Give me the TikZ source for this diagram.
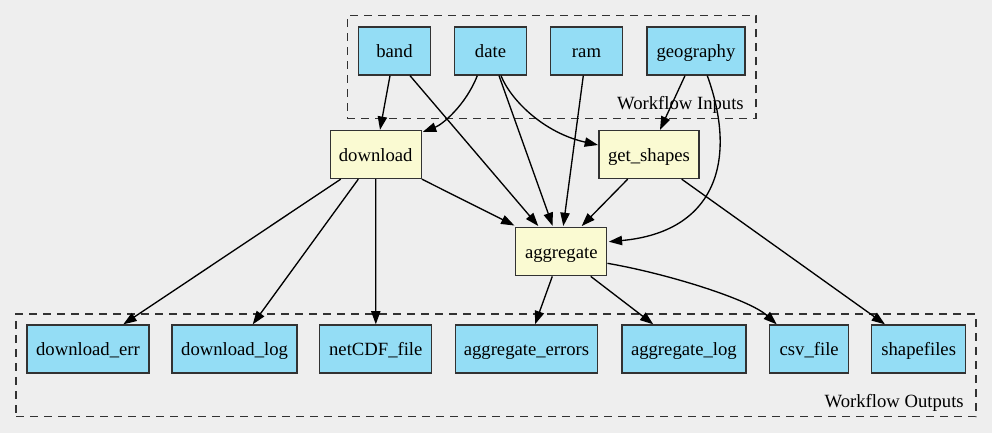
\documentclass[tikz,border=0pt]{standalone}
\usepackage{fontspec}
\setmainfont{Liberation Serif}
\usetikzlibrary{arrows.meta,calc}
\definecolor{bgc}{RGB}{238,238,238}
\definecolor{inblue}{RGB}{148,221,245}
\definecolor{procyellow}{RGB}{250,250,210}
\definecolor{bordergray}{RGB}{50,50,50}
\begin{document}
\begin{tikzpicture}[x=0.75pt,y=-0.75pt,
  box/.style={draw=bordergray,line width=1pt,rectangle,inner sep=0pt,minimum height=36pt,text height=13pt,text depth=3pt,font=\fontsize{14pt}{16pt}\selectfont},
  io/.style={box,fill=inblue},
  proc/.style={box,fill=procyellow},
  cluster/.style={draw=bordergray,line width=1.1pt,dash pattern=on 6pt off 4.5pt,rectangle,inner sep=0pt},
  clabel/.style={anchor=base east,inner sep=0pt,font=\fontsize{14pt}{16pt}\selectfont},
  edge/.style={draw=black,line width=1pt,-{Triangle[length=10pt,width=7pt]}}]
\fill[bgc] (0,0) rectangle (992,433);
\useasboundingbox (0,0) rectangle (992,433);

% clusters
\node[cluster,minimum width=306.5pt,minimum height=77.25pt] (inputs) at (551.7,67.2) {};
\node[clabel] (inlabel) at (744,109) {Workflow Inputs};
\node[cluster,minimum width=720pt,minimum height=77pt] (outputs) at (496,365.3) {};
\node[clabel] (outlabel) at (964,407) {Workflow Outputs};

% inputs
\node[io,minimum width=54pt] (band) at (394.5,51) {band};
\node[io,minimum width=54pt] (date) at (490.5,51) {date};
\node[io,minimum width=54pt] (ram) at (586.5,51) {ram};
\node[io,minimum width=73.5pt] (geography) at (696,51) {geography};

% processes
\node[proc,minimum width=68.25pt] (download) at (375.7,154.5) {download};
\node[proc,minimum width=75pt] (getshapes) at (649,154.5) {get\_shapes};
\node[proc,minimum width=68.25pt] (aggregate) at (561.3,251.7) {aggregate};

% outputs
\node[io,minimum width=91.5pt] (dlerr) at (88,349) {download\_err};
\node[io,minimum width=93.75pt] (dllog) at (234.6,349) {download\_log};
\node[io,minimum width=84pt] (netcdf) at (375.8,349) {netCDF\_file};
\node[io,minimum width=106.5pt] (aggerr) at (526.5,349) {aggregate\_errors};
\node[io,minimum width=93pt] (agglog) at (683.9,349) {aggregate\_log};
\node[io,minimum width=59.25pt] (csv) at (809.2,349) {csv\_file};
\node[io,minimum width=70.5pt] (shapes) at (918.7,349) {shapefiles};

% edges
\draw[edge] ($(band.south)+(-4.5,0)$) -- ($(download.north)+(4.3,0)$);
\draw[edge] ($(band.south)+(15.5,0)$) -- ($(aggregate.north)+(-23,-1)$);
\draw[edge] ($(date.south)+(-13.2,0)$) .. controls ($(date.south)+(-25,30)$) and ($(download.north east)+(20,-5)$) .. ($(download.north east)+(1,2)$);
\draw[edge] ($(date.south)+(8.5,0)$) -- ($(aggregate.north)+(-8.6,-1)$);
\draw[edge] ($(date.south)+(10.5,0)$) .. controls ($(date.south)+(20.5,25)$) and ($(getshapes.west)+(-54,-21.5)$) .. ($(getshapes.west)+(-0.3,-9.5)$);
\draw[edge] ($(ram.south)+(-3.2,0)$) -- ($(aggregate.north)+(2,-1)$);
\draw[edge] ($(geography.south)+(-11,0)$) -- ($(getshapes.north)+(11,0)$);
\draw[edge] ($(geography.south)+(11.3,0)$) .. controls ($(geography.south)+(42,85)$) and ($(aggregate.east)+(108,-19.7)$) .. ($(aggregate.east)+(1.3,-10)$);
\draw[edge] (download.south east) -- ($(aggregate.north west)+(-0.7,-1.5)$);
\draw[edge] ($(getshapes.south)+(-21.3,0)$) -- ($(aggregate.north)+(20.4,-1)$);
\draw[edge] ($(download.south)+(-35,0)$) -- ($(dlerr.north)+(35.3,0)$);
\draw[edge] ($(download.south)+(-17.4,0)$) -- ($(dllog.north)+(18.1,0)$);
\draw[edge] (download.south) -- (netcdf.north);
\draw[edge] ($(getshapes.south)+(32.7,0)$) -- ($(shapes.north)+(-33.7,0)$);
\draw[edge] ($(aggregate.south)+(-9,0)$) -- ($(aggerr.north)+(8.5,0)$);
\draw[edge] ($(aggregate.south)+(29.4,0)$) -- ($(agglog.north)+(-30.6,0)$);
\draw[edge] ($(aggregate.east)+(0,11.6)$) .. controls ($(aggregate.east)+(60,22)$) and ($(csv.north)+(-60,-25)$) .. ($(csv.north)+(-32.5,0)$);
\end{tikzpicture}
\end{document}
